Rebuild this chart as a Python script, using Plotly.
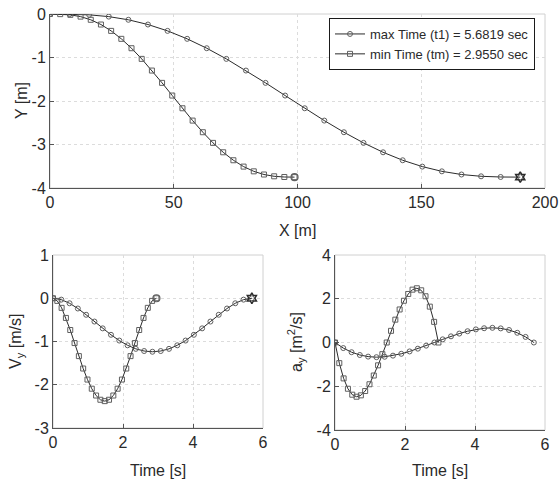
import plotly.graph_objects as go

# ---------------- data ----------------
# max time trajectory (t1 = 5.6819 s)
t_max = [0, 0.237, 0.473, 0.710, 0.947, 1.184, 1.420, 1.657, 1.894, 2.131, 2.367, 2.604,
         2.841, 3.078, 3.314, 3.551, 3.788, 4.025, 4.261, 4.498, 4.735, 4.972, 5.208, 5.445, 5.682]
x_max = [0, 7.92, 15.83, 23.75, 31.67, 39.58, 47.50, 55.42, 63.33, 71.25, 79.17, 87.08,
         95.00, 102.92, 110.83, 118.75, 126.67, 134.58, 142.50, 150.42, 158.33, 166.25, 174.17, 182.08, 190.00]
y_max = [0, -0.003, -0.019, -0.060, -0.133, -0.242, -0.388, -0.571, -0.787, -1.032, -1.300, -1.583,
         -1.875, -2.167, -2.450, -2.718, -2.963, -3.179, -3.362, -3.508, -3.617, -3.690, -3.731, -3.747, -3.750]
vy_max = [0, -0.032, -0.116, -0.237, -0.382, -0.539, -0.696, -0.845, -0.978, -1.088, -1.170, -1.220,
          -1.237, -1.220, -1.170, -1.088, -0.978, -0.845, -0.696, -0.539, -0.382, -0.237, -0.116, -0.032, 0]
ay_max = [0, -0.255, -0.444, -0.572, -0.645, -0.671, -0.653, -0.600, -0.516, -0.408, -0.282, -0.144,
          0, 0.144, 0.282, 0.408, 0.516, 0.600, 0.653, 0.671, 0.645, 0.572, 0.444, 0.255, 0]

# min time trajectory (tm = 2.9550 s)
t_min = [0, 0.123, 0.246, 0.369, 0.493, 0.616, 0.739, 0.862, 0.985, 1.108, 1.231, 1.354,
         1.478, 1.601, 1.724, 1.847, 1.970, 2.093, 2.216, 2.339, 2.463, 2.586, 2.709, 2.832, 2.955]
x_min = [0, 4.12, 8.23, 12.35, 16.47, 20.58, 24.70, 28.82, 32.93, 37.05, 41.17, 45.28,
         49.40, 53.52, 57.63, 61.75, 65.87, 69.98, 74.10, 78.22, 82.33, 86.45, 90.57, 94.68, 98.80]
y_min = [0, -0.003, -0.019, -0.060, -0.133, -0.242, -0.388, -0.571, -0.787, -1.032, -1.300, -1.583,
         -1.875, -2.167, -2.450, -2.718, -2.963, -3.179, -3.362, -3.508, -3.617, -3.690, -3.731, -3.747, -3.750]
vy_min = [0, -0.061, -0.222, -0.455, -0.734, -1.036, -1.338, -1.625, -1.880, -2.091, -2.249, -2.347,
          -2.379, -2.347, -2.249, -2.091, -1.880, -1.625, -1.338, -1.036, -0.734, -0.455, -0.222, -0.061, 0]
ay_min = [0, -0.943, -1.640, -2.114, -2.386, -2.479, -2.416, -2.218, -1.909, -1.510, -1.044, -0.533,
          0, 0.533, 1.044, 1.510, 1.909, 2.218, 2.416, 2.479, 2.386, 2.114, 1.640, 0.943, 0]

label_max = "max Time (t1) = 5.6819 sec"
label_min = "min Time (tm) = 2.9550 sec"

x_top_ticks = [0, 50, 100, 150, 200]
y_top_ticks = [-4, -3, -2, -1, 0]
t_ticks = [0, 2, 4, 6]
vy_ticks = [-3, -2, -1, 0, 1]
ay_ticks = [-4, -2, 0, 2, 4]

# ---------------- styling ----------------
W, H = 559, 481
FONT = "Liberation Sans"
LINE = "#2b2b2b"
MARK = "#5f5f5f"
TXT = "#2a2a2a"

def px_x(a, b):
    return [a / W, b / W]

def px_y(top, bottom):
    return [1 - bottom / H, 1 - top / H]

fig = go.Figure()

def add(x, y, xa, ya, sym, size, name, show):
    fig.add_trace(go.Scatter(
        x=x, y=y, xaxis=xa, yaxis=ya, mode="lines+markers", name=name,
        showlegend=show, legendgroup=name,
        line=dict(color=LINE, width=1),
        marker=dict(symbol=sym, size=size, color=MARK, line=dict(color=MARK, width=1)),
    ))

# top: Y vs X
add(x_max, y_max, "x", "y", "circle-open", 5, label_max, True)
add(x_min, y_min, "x", "y", "square-open", 5, label_min, True)
# bottom left: Vy vs t
add(t_max, vy_max, "x2", "y2", "circle-open", 5, label_max, False)
add(t_min, vy_min, "x2", "y2", "square-open", 5, label_min, False)
# bottom right: ay vs t
add(t_max, ay_max, "x3", "y3", "circle-open", 5, label_max, False)
add(t_min, ay_min, "x3", "y3", "square-open", 5, label_min, False)

# end-point markers
for xa, ya, xs, ys in [("x", "y", x_max, y_max), ("x2", "y2", t_max, vy_max)]:
    fig.add_trace(go.Scatter(x=[xs[-1]], y=[ys[-1]], xaxis=xa, yaxis=ya, mode="markers",
                             showlegend=False, hoverinfo="skip",
                             marker=dict(symbol="hexagram-open", size=8, color=LINE,
                                         line=dict(color=LINE, width=1.5))))
for xa, ya, xs, ys in [("x", "y", x_min, y_min), ("x2", "y2", t_min, vy_min)]:
    fig.add_trace(go.Scatter(x=[xs[-1]], y=[ys[-1]], xaxis=xa, yaxis=ya, mode="markers",
                             showlegend=False, hoverinfo="skip",
                             marker=dict(symbol="circle-open", size=7, color=MARK,
                                         line=dict(color=MARK, width=1.2))))

axis_common = dict(
    showline=True, linecolor="#555555", linewidth=1, mirror=False,
    showgrid=True, gridcolor="#dcdcdc", gridwidth=1, griddash="dot",
    zeroline=False, ticks="inside", ticklen=4, tickcolor="#555555",
    tickfont=dict(family=FONT, size=16, color=TXT),
    automargin=False,
)

def ticks(vals):
    return dict(tickvals=vals, ticktext=[str(v) for v in vals])

fig.update_layout(
    width=W, height=H, margin=dict(l=0, r=0, t=0, b=0),
    paper_bgcolor="white", plot_bgcolor="white",
    font=dict(family=FONT, color=TXT),
    xaxis=dict(domain=px_x(50, 545), anchor="y", range=[0, 200], **ticks(x_top_ticks), **axis_common),
    yaxis=dict(domain=px_y(14, 188), anchor="x", range=[-4, 0], **ticks(y_top_ticks), **axis_common),
    xaxis2=dict(domain=px_x(53, 263), anchor="y2", range=[0, 6], **ticks(t_ticks), **axis_common),
    yaxis2=dict(domain=px_y(255, 428), anchor="x2", range=[-3, 1], **ticks(vy_ticks), **axis_common),
    xaxis3=dict(domain=px_x(335, 545), anchor="y3", range=[0, 6], **ticks(t_ticks), **axis_common),
    yaxis3=dict(domain=px_y(255, 430), anchor="x3", range=[-4, 4], **ticks(ay_ticks), **axis_common),
    legend=dict(x=535 / W, y=1 - 18 / H, xanchor="right", yanchor="top",
                bgcolor="white", bordercolor="#1a1a1a", borderwidth=1,
                font=dict(family=FONT, size=13, color=TXT),
                tracegroupgap=0, itemwidth=30),
    showlegend=True,
)

# axis titles placed as annotations (paper coordinates from pixels)
def title(text, cx, cy, angle=0):
    fig.add_annotation(text=text, x=cx / W, y=1 - cy / H, xref="paper", yref="paper",
                       showarrow=False, textangle=angle, xanchor="center", yanchor="middle",
                       font=dict(family=FONT, size=16, color=TXT))

title("X [m]", 297, 230)
title("Y [m]", 22, 101, -90)
title("Time [s]", 158, 470)
title("V<sub>y</sub> [m/s]", 16, 342, -90)
title("Time [s]", 440, 470)
title("a<sub>y</sub> [m<sup>2</sup>/s]", 296, 342, -90)

# box outline (light top/right edges like the reference)
for xa, ya in [("x", "y"), ("x2", "y2"), ("x3", "y3")]:
    fig.add_shape(type="rect", xref=f"{xa} domain", yref=f"{ya} domain",
                  x0=0, x1=1, y0=0, y1=1, line=dict(color="#d0d0d0", width=1), layer="below")

fig.write_html("out.html")
